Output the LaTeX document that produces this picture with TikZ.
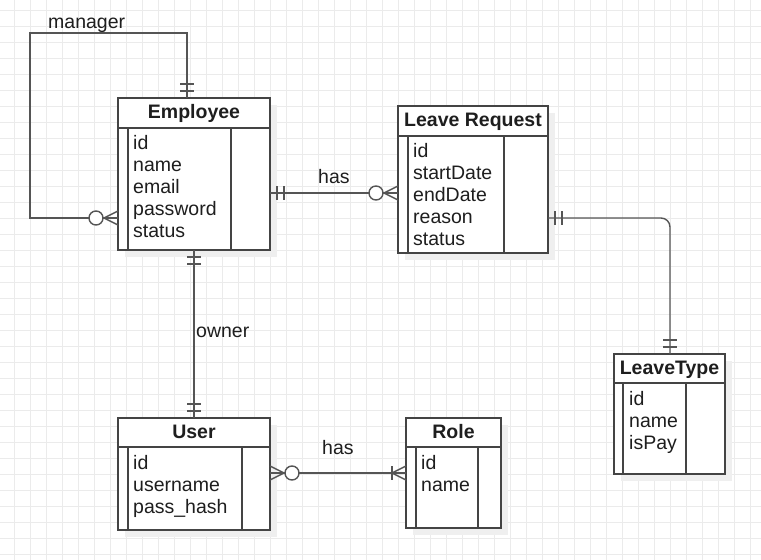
\documentclass[tikz,border=0pt]{standalone}
\usepackage{fontspec}
\setmainfont{Liberation Sans}
\usetikzlibrary{calc}
\definecolor{gridc}{HTML}{EBEBEB}
\definecolor{shadowc}{HTML}{EFEFEF}
\definecolor{linec}{HTML}{555555}
\definecolor{boxc}{HTML}{444444}
\definecolor{textc}{HTML}{1E1E1E}
\tikzset{
  gridline/.style={draw=gridc, line width=1pt},
  entity/.style={draw=boxc, line width=1.4pt, fill=white, anchor=north west, inner sep=0pt, outer sep=0pt},
  shadowbox/.style={fill=shadowc, draw=none, anchor=north west, inner sep=0pt, outer sep=0pt},
  innerline/.style={draw=boxc, line width=1.2pt},
  conn/.style={draw=linec, line width=1.4pt},
  hdr/.style={anchor=base, font=\fontsize{19.5}{22}\selectfont\bfseries, text=textc, inner sep=0pt},
  fld/.style={anchor=base west, font=\fontsize{19.5}{22}\selectfont, text=textc, inner sep=0pt},
  lbl/.style={anchor=base west, font=\fontsize{19.5}{22}\selectfont, text=textc, inner sep=0pt},
  circ/.style={draw=linec, line width=1.4pt, fill=white}
}
\begin{document}
\begin{tikzpicture}[x=1pt,y=-1pt]
\useasboundingbox (0,0) rectangle (761,560);
\fill[white] (0,0) rectangle (761,560);
% grid
\foreach \gx in {14,30,...,760} { \draw[gridline] (\gx,0) -- (\gx,560); }
\foreach \gy in {10,26,...,560} { \draw[gridline] (0,\gy) -- (761,\gy); }

% shadows
\node[shadowbox, minimum width=152pt, minimum height=152pt] (empS) at (125,105) {};
\node[shadowbox, minimum width=150pt, minimum height=147pt] (lrS) at (405,113) {};
\node[shadowbox, minimum width=111pt, minimum height=120pt] (ltS) at (621,361) {};
\node[shadowbox, minimum width=152pt, minimum height=112pt] (usS) at (125,425) {};
\node[shadowbox, minimum width=95pt, minimum height=110pt] (roS) at (413,425) {};

% entities
\node[entity, minimum width=152pt, minimum height=152pt] (emp) at (118,98) {};
\node[entity, minimum width=150pt, minimum height=147pt] (lr) at (398,106) {};
\node[entity, minimum width=111pt, minimum height=120pt] (lt) at (614,354) {};
\node[entity, minimum width=152pt, minimum height=112pt] (us) at (118,418) {};
\node[entity, minimum width=95pt, minimum height=110pt] (ro) at (406,418) {};

% inner lines
\draw[innerline] ($(emp.north west)+(0,30)$) -- ($(emp.north east)+(0,30)$);
\draw[innerline] ($(emp.north west)+(10,30)$) -- ($(emp.south west)+(10,0)$);
\draw[innerline] ($(emp.north west)+(113,30)$) -- ($(emp.south west)+(113,0)$);

\draw[innerline] ($(lr.north west)+(0,30)$) -- ($(lr.north east)+(0,30)$);
\draw[innerline] ($(lr.north west)+(10,30)$) -- ($(lr.south west)+(10,0)$);
\draw[innerline] ($(lr.north west)+(106,30)$) -- ($(lr.south west)+(106,0)$);

\draw[innerline] ($(lt.north west)+(0,29)$) -- ($(lt.north east)+(0,29)$);
\draw[innerline] ($(lt.north west)+(9,29)$) -- ($(lt.south west)+(9,0)$);
\draw[innerline] ($(lt.north west)+(72,29)$) -- ($(lt.south west)+(72,0)$);

\draw[innerline] ($(us.north west)+(0,29)$) -- ($(us.north east)+(0,29)$);
\draw[innerline] ($(us.north west)+(10,29)$) -- ($(us.south west)+(10,0)$);
\draw[innerline] ($(us.north west)+(124,29)$) -- ($(us.south west)+(124,0)$);

\draw[innerline] ($(ro.north west)+(0,29)$) -- ($(ro.north east)+(0,29)$);
\draw[innerline] ($(ro.north west)+(10,29)$) -- ($(ro.south west)+(10,0)$);
\draw[innerline] ($(ro.north west)+(72,29)$) -- ($(ro.south west)+(72,0)$);

% texts
\node[hdr] (empH) at (194,118) {Employee};
\node[fld] (empF1) at (133,149) {id};
\node[fld] (empF2) at (133,171) {name};
\node[fld] (empF3) at (133,193) {email};
\node[fld] (empF4) at (133,215) {password};
\node[fld] (empF5) at (133,237) {status};

\node[hdr] (lrH) at (473,126) {Leave Request};
\node[fld] (lrF1) at (413,157) {id};
\node[fld] (lrF2) at (413,179) {startDate};
\node[fld] (lrF3) at (413,201) {endDate};
\node[fld] (lrF4) at (413,223) {reason};
\node[fld] (lrF5) at (413,245) {status};

\node[hdr] (ltH) at (669.5,374) {LeaveType};
\node[fld] (ltF1) at (629,405) {id};
\node[fld] (ltF2) at (629,427) {name};
\node[fld] (ltF3) at (629,449) {isPay};

\node[hdr] (usH) at (194,438) {User};
\node[fld] (usF1) at (133,469) {id};
\node[fld] (usF2) at (133,491) {username};
\node[fld] (usF3) at (133,513) {pass\_hash};

\node[hdr] (roH) at (453.5,438) {Role};
\node[fld] (roF1) at (421,469) {id};
\node[fld] (roF2) at (421,491) {name};

% connection points
\coordinate (mTop) at ($(emp.north west)+(69,0)$);
\coordinate (mLeft) at ($(emp.north west)+(0,120)$);
\coordinate (eRight) at ($(emp.north east)+(0,95)$);
\coordinate (lrLeft) at ($(lr.north west)+(0,87)$);
\coordinate (lrRight) at ($(lr.north east)+(0,112)$);
\coordinate (ltTop) at ($(lt.north west)+(56,0)$);
\coordinate (eBot) at (emp.south);
\coordinate (usTop) at (us.north);
\coordinate (usRight) at ($(us.north east)+(0,55)$);
\coordinate (roLeft) at ($(ro.north west)+(0,55)$);
\coordinate (mCorner1) at (30,33);

% manager self loop
\draw[conn] (mTop) -- (mTop |- mCorner1) -- (mCorner1) -- (mCorner1 |- mLeft) -- (mLeft);
\draw[conn] ($(mTop)+(-7,-7)$) -- ++(14,0);
\draw[conn] ($(mTop)+(-7,-14)$) -- ++(14,0);
\draw[conn] ($(mLeft)+(0,-7)$) -- ($(mLeft)+(-14,0)$) -- ($(mLeft)+(0,7)$);
\node[circ, circle, minimum size=14pt, inner sep=0pt] (mCirc) at ($(mLeft)+(-22,0)$) {};

% Employee - Leave Request
\draw[conn] (eRight) -- (lrLeft);
\draw[conn] ($(eRight)+(7,-7)$) -- ++(0,14);
\draw[conn] ($(eRight)+(14,-7)$) -- ++(0,14);
\draw[conn] ($(lrLeft)+(0,-7)$) -- ($(lrLeft)+(-14,0)$) -- ($(lrLeft)+(0,7)$);
\node[circ, circle, minimum size=14pt, inner sep=0pt] (lrCirc) at ($(lrLeft)+(-22,0)$) {};

% Leave Request - LeaveType
\draw[conn, rounded corners=9pt] (lrRight) -- (lrRight -| ltTop) -- (ltTop);
\draw[conn] ($(lrRight)+(7,-7)$) -- ++(0,14);
\draw[conn] ($(lrRight)+(14,-7)$) -- ++(0,14);
\draw[conn] ($(ltTop)+(-7,-7)$) -- ++(14,0);
\draw[conn] ($(ltTop)+(-7,-14)$) -- ++(14,0);

% Employee - User
\draw[conn] (eBot) -- (usTop);
\draw[conn] ($(eBot)+(-7,7)$) -- ++(14,0);
\draw[conn] ($(eBot)+(-7,14)$) -- ++(14,0);
\draw[conn] ($(usTop)+(-7,-7)$) -- ++(14,0);
\draw[conn] ($(usTop)+(-7,-14)$) -- ++(14,0);

% User - Role
\draw[conn] (usRight) -- (roLeft);
\draw[conn] ($(usRight)+(0,-7)$) -- ($(usRight)+(14,0)$) -- ($(usRight)+(0,7)$);
\node[circ, circle, minimum size=14pt, inner sep=0pt] (usCirc) at ($(usRight)+(22,0)$) {};
\draw[conn] ($(roLeft)+(0,-7)$) -- ($(roLeft)+(-14,0)$) -- ($(roLeft)+(0,7)$);
\draw[conn] ($(roLeft)+(-14,-7)$) -- ++(0,14);

% labels
\node[lbl] (lManager) at (48,28) {manager};
\node[lbl] (lHas1) at (318,183) {has};
\node[lbl] (lOwner) at (196,337) {owner};
\node[lbl] (lHas2) at (322,454) {has};
\end{tikzpicture}
\end{document}
